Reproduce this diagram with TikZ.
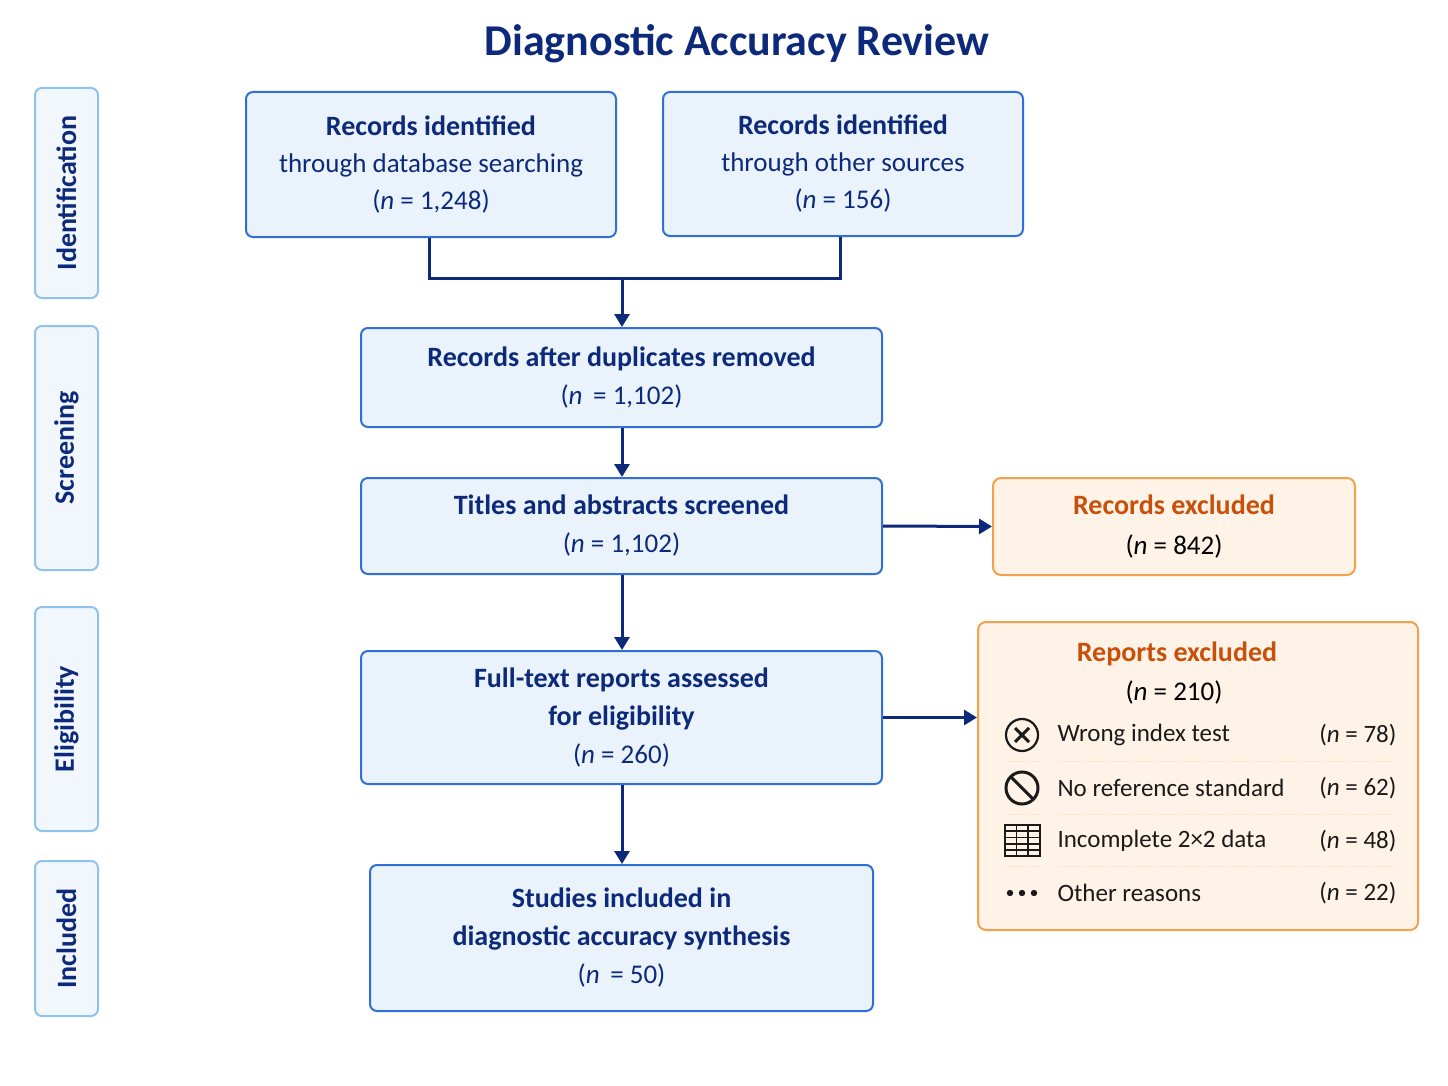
\documentclass[tikz,border=0pt]{standalone}
\usepackage{fontspec}
\setmainfont{Carlito}
\usetikzlibrary{arrows.meta}
\definecolor{navy}{HTML}{0D2A7A}
\definecolor{bbord}{HTML}{2F6FD6}
\definecolor{bfill}{HTML}{EAF3FC}
\definecolor{sbord}{HTML}{8EC3F0}
\definecolor{sfill}{HTML}{F1F7FD}
\definecolor{obord}{HTML}{F5A04A}
\definecolor{ofill}{HTML}{FEF3E6}
\definecolor{otext}{HTML}{C9500A}
\definecolor{dk}{HTML}{1A1A1A}
\tikzset{
 box/.style={draw=bbord,fill=bfill,line width=2pt,rounded corners=7pt,align=center,text=navy,inner sep=0pt,font=\fontsize{28}{38}\selectfont},
 txt/.style={align=center,text=navy,font=\fontsize{28}{37}\selectfont},
 side/.style={draw=sbord,fill=sfill,line width=2pt,rounded corners=7pt,inner sep=0pt},
 sidelab/.style={rotate=90,text=navy,font=\fontsize{28}{30}\selectfont\bfseries},
 obox/.style={draw=obord,fill=ofill,line width=2pt,rounded corners=8pt,inner sep=0pt,font=\fontsize{28}{40}\selectfont},
 conn/.style={draw=navy,line width=3pt},
 arr/.style={conn,-{Triangle[length=13pt,width=15pt]}},
 sep/.style={draw=obord!50,dotted,line width=1pt},
 icon/.style={draw=dk,line width=2.2pt},
}
\newcommand{\bt}[1]{{\bfseries #1}}
\newcommand{\nt}[1]{{\fontsize{27}{37}\selectfont #1}}
\begin{document}
\begin{tikzpicture}[x=1pt,y=-1pt]
\useasboundingbox (0,0) rectangle (1448,1086);
\fill[white] (0,0) rectangle (1448,1086);
\node[text=navy,font=\fontsize{44}{50}\selectfont\bfseries] (title) at (737,44) {Diagnostic Accuracy Review};
% side labels
\node[side,minimum width=63pt,minimum height=210pt] (s1) at (66.5,193) {};
\node[sidelab] (l1) at (s1) {Identification};
\node[side,minimum width=63pt,minimum height=244pt] (s2) at (66.5,448) {};
\node[sidelab] (l2) at (s2) {Screening};
\node[side,minimum width=63pt,minimum height=224pt] (s3) at (66.5,719) {};
\node[sidelab] (l3) at (s3) {Eligibility};
\node[side,minimum width=63pt,minimum height=155pt] (s4) at (66.5,938.5) {};
\node[sidelab] (l4) at (s4) {Included};
% main boxes
\node[box,minimum width=370pt,minimum height=145pt] (b1) at (431,164.5) {};
\node[txt] at (b1) {\bt{Records identified}\\\nt{through database searching}\\\nt{(\textit{n} = 1,248)}};
\node[box,minimum width=360pt,minimum height=144pt] (b2) at (843,164) {};
\node[txt] at (b2) {\bt{Records identified}\\\nt{through other sources}\\\nt{(\textit{n} = 156)}};
\node[box,minimum width=521pt,minimum height=99pt] (b3) at (621.5,377.5) {\bt{Records after duplicates removed}\\\nt{(\textit{n}\, = 1,102)}};
\node[box,minimum width=521pt,minimum height=96pt] (b4) at (621.5,526) {\bt{Titles and abstracts screened}\\\nt{(\textit{n} = 1,102)}};
\node[box,minimum width=521pt,minimum height=133pt] (b5) at (621.5,717.5) {\bt{Full-text reports assessed}\\\bt{for eligibility}\\\nt{(\textit{n} = 260)}};
\node[box,minimum width=503pt,minimum height=146pt] (b6) at (621.5,938) {\bt{Studies included in}\\\bt{diagnostic accuracy synthesis}\\\nt{(\textit{n}\, = 50)}};
% orange boxes
\node[obox,minimum width=362pt,minimum height=97pt,align=center] (r1) at (1174,526.5) {{\bfseries\color{otext}Records excluded}\\\nt{(\textit{n} = 842)}};
\node[obox,minimum width=440pt,minimum height=308pt] (r2) at (1198,776) {};
\node[text=otext,font=\fontsize{28}{30}\selectfont\bfseries] (r2t) at (1177,654) {Reports excluded};
\node[font=\fontsize{27}{30}\selectfont] (r2n) at (1174,692) {(\textit{n} = 210)};
% rows
\foreach \y/\t/\n [count=\i] in {735/Wrong index test/78,788/No reference standard/62,841/Incomplete 2×2 data/48,893/Other reasons/22}{
  \node[anchor=west,font=\fontsize{25}{28}\selectfont,text=dk] (t\i) at (1054,\y) {\t};
  \node[anchor=east,font=\fontsize{25}{28}\selectfont,text=dk] (n\i) at (1400,\y) {(\textit{n} = \n)};
}
\foreach \y in {761,814,866}{
  \draw[sep] (1005,\y) -- (1042,\y);
  \draw[sep] (1058,\y) -- (1395,\y);
}
% icons
\draw[icon] (1022,735) circle (16pt);
\draw[icon,line width=3pt] (1015,728) -- (1029,742) (1029,728) -- (1015,742);
\draw[icon,line width=3pt] (1022,788) circle (16pt);
\draw[icon,line width=3pt] (1011,777) -- (1033,799);
\draw[icon,line width=1.5pt] (1005,825) rectangle (1040,856);
\draw[icon,line width=1.5pt] (1005,831) -- (1040,831) (1005,837.5) -- (1040,837.5) (1005,844) -- (1040,844) (1005,850) -- (1040,850) (1016.5,825) -- (1016.5,856) (1028,825) -- (1028,856);
\foreach \x in {1010,1022,1034} \fill[dk] (\x,893) circle (3.2pt);
% connectors
\coordinate (j1) at (429,278);
\coordinate (j2) at (840,278);
\coordinate (jm) at (622,278);
\draw[conn] (b1.south -| j1) -- (j1) -- (j2) -- (b2.south -| j2);
\draw[arr] (jm) -- (b3.north -| jm);
\draw[arr] (b3.south -| jm) -- (b4.north -| jm);
\draw[arr] (b4.south -| jm) -- (b5.north -| jm);
\draw[arr] (b5.south -| jm) -- (b6.north -| jm);
\draw[arr] (b4.east) -- (r1.west);
\draw[arr] (b5.east) -- (r2.west |- b5.east);
\end{tikzpicture}
\end{document}
